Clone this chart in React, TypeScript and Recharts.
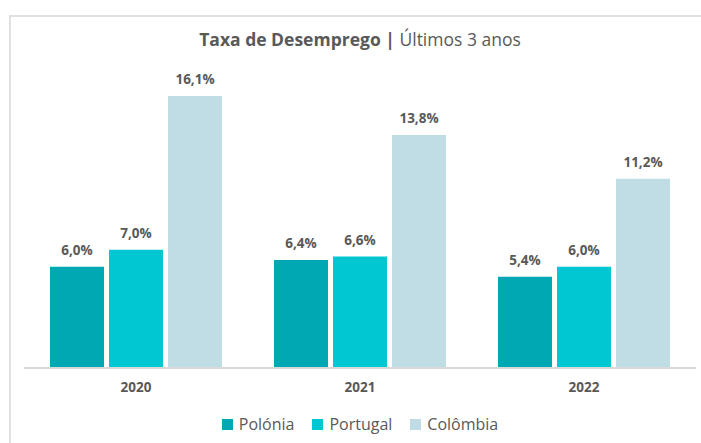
import React from 'react';
import { BarChart, Bar, XAxis, YAxis, LabelList, Legend } from 'recharts';

const anos = ['2020', '2021', '2022'];
const polonia = [6.0, 6.4, 5.4];
const portugal = [7.0, 6.6, 6.0];
const colombia = [16.1, 13.8, 11.2];

const series = [
  { key: 'polonia', name: 'Polónia', color: '#00a8b4' },
  { key: 'portugal', name: 'Portugal', color: '#00c7d1' },
  { key: 'colombia', name: 'Colômbia', color: '#c0dde6' },
];

const data = anos.map((ano, i) => ({
  ano,
  polonia: polonia[i],
  portugal: portugal[i],
  colombia: colombia[i],
}));

const FONT = '"Open Sans", Lato, sans-serif';
const GREY = '#595959';

const fmt = (v: number) => `${v.toFixed(1).replace('.', ',')}%`;

const renderLegend = () => (
  <div style={{ display: 'flex', justifyContent: 'center', gap: 18, fontFamily: FONT, fontSize: 16, color: GREY, lineHeight: '20px' }}>
    {series.map((s) => (
      <div key={s.key} style={{ display: 'flex', alignItems: 'center', gap: 6 }}>
        <div style={{ width: 11, height: 11, background: s.color }} />
        <span>{s.name}</span>
      </div>
    ))}
  </div>
);

export default function App() {
  return (
    <div style={{ position: 'absolute', left: 0, top: 0, width: 701, height: 443, background: '#fff', overflow: 'hidden' }}>
      <div style={{ position: 'absolute', left: 9, top: 15, width: 720, height: 460, border: '2px solid #e0e0e0' }} />
      <div style={{ position: 'absolute', top: 27, left: 0, width: 720, textAlign: 'center', fontFamily: FONT, fontSize: 17.5, color: GREY }}>
        <span style={{ fontWeight: 700 }}>Taxa de Desemprego | </span>
        <span>Últimos 3 anos</span>
      </div>
      <BarChart
        width={701}
        height={443}
        data={data}
        margin={{ top: 64, right: 5, left: 24, bottom: 15 }}
        barCategoryGap={26}
        barGap={5}
        style={{ position: 'absolute', left: 0, top: 0 }}
      >
        <XAxis
          dataKey="ano"
          axisLine={{ stroke: '#d9d9d9', strokeWidth: 2 }}
          tickLine={false}
          tick={{ fontFamily: FONT, fontSize: 13.5, fontWeight: 700, fill: GREY }}
          tickMargin={8}
          height={30}
        />
        <YAxis hide domain={[0, 18]} />
        <Legend content={renderLegend} verticalAlign="bottom" height={30} wrapperStyle={{ top: 414, bottom: 'auto' }} />
        {series.map((s) => (
          <Bar key={s.key} dataKey={s.key} name={s.name} fill={s.color} isAnimationActive={false}>
            <LabelList
              dataKey={s.key}
              position="top"
              offset={12}
              formatter={fmt}
              style={{ fontFamily: FONT, fontSize: 13.5, fontWeight: 700, fill: GREY }}
            />
          </Bar>
        ))}
      </BarChart>
    </div>
  );
}
